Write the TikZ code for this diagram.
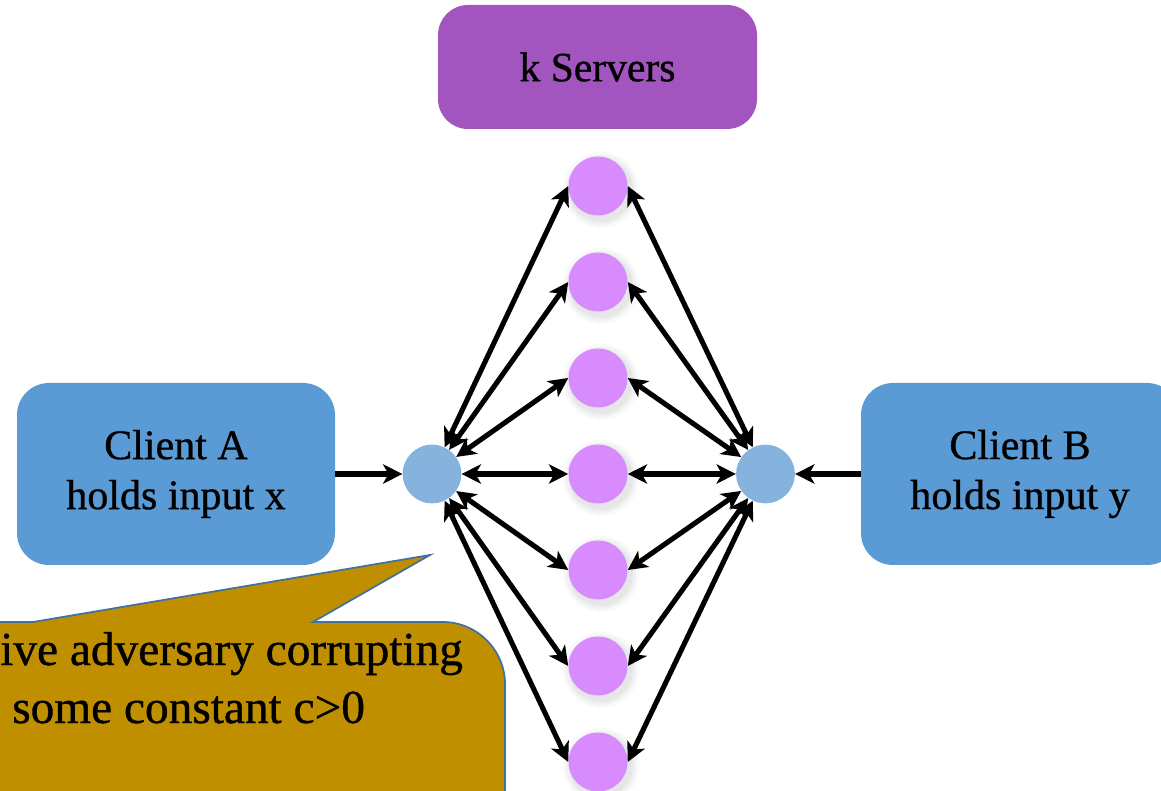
\documentclass[tikz,border=0pt]{standalone}
\usepackage{fontspec}
\setmainfont{Liberation Serif}[FakeBold=0.8]
\usetikzlibrary{arrows.meta}
\definecolor{serverbox}{HTML}{A355BF}
\definecolor{serverdot}{HTML}{D78BFC}
\definecolor{hubdot}{HTML}{85B3DE}
\definecolor{clientbox}{HTML}{5B9BD5}
\definecolor{calloutfill}{HTML}{BF8F00}
\definecolor{calloutline}{HTML}{41719C}
\tikzset{
  clientnode/.style={fill=clientbox, rounded corners=24pt, minimum width=238.5pt, minimum height=136.5pt,
    align=center, inner sep=0pt, font=\fontsize{31.5pt}{37.5pt}\selectfont},
  serverhead/.style={fill=serverbox, rounded corners=22.5pt, minimum width=239.25pt, minimum height=93pt,
    inner sep=0pt, font=\fontsize{31.2pt}{37.5pt}\selectfont},
  serverdotstyle/.style={circle, fill=serverdot, minimum size=44.25pt, inner sep=0pt},
  hubstyle/.style={circle, fill=hubdot, minimum size=44pt, inner sep=0pt},
  conn/.style={line width=3.8pt, -{Stealth[length=14.5pt,width=14.5pt,inset=4pt]}},
  dconn/.style={line width=3.8pt, {Stealth[length=14.5pt,width=14.5pt,inset=4pt]}-{Stealth[length=14.5pt,width=14.5pt,inset=4pt]}},
  callouttext/.style={anchor=base west, inner sep=0pt, font=\fontsize{35.5pt}{44pt}\selectfont},
}
\begin{document}
\begin{tikzpicture}[x=0.75pt,y=-0.75pt]
\useasboundingbox (0,0) rectangle (1161,791);
\clip (0,0) rectangle (1161,791);

% server header
\node[serverhead] (hdr) at (597.5,67) {k Servers};

% soft shadows of server dots
\foreach \i in {1,...,7} {
  \foreach \r/\o in {38/0.025,35/0.035,32/0.045} {
    \fill[black, opacity=\o] (601,{186+96*(\i-1)+4}) circle[radius=\r*0.75pt];
  }
}

% servers
\foreach \i in {1,...,7} {
  \node[serverdotstyle] (s\i) at (598,{186+96*(\i-1)}) {};
}

% hubs
\node[hubstyle] (hA) at (432,474) {};
\node[hubstyle] (hB) at (765.5,474) {};

% clients
\node[clientnode] (A) at (176,474) {Client A\\holds input x};
\node[clientnode] (B) at (1020,474) {Client B\\holds input y};

% connectors
\draw[conn] (A.east) -- (hA);
\draw[conn] (B.west) -- (hB);
\foreach \i in {1,...,7} {
  \draw[dconn] (hA) -- (s\i.west);
  \draw[dconn] (hB) -- (s\i.east);
}

% callout
\draw[fill=calloutfill, draw=calloutline, line width=1.3pt, line join=miter]
  (-10,622) -- (33,622) -- (430,555) -- (313,622) -- (443,622)
  .. controls (477,622) and (505,650) .. (505,684)
  -- (505,800) -- (-10,800) -- cycle;
\node[callouttext] (cl1) at (0,665) {ive adversary corrupting};
\node[callouttext] (cl2) at (12,723) {some constant c>0};
\end{tikzpicture}
\end{document}
